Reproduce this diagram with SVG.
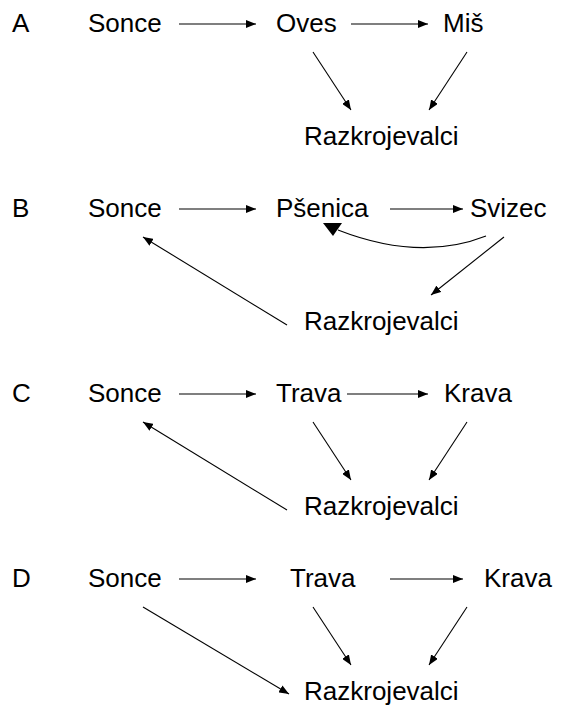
<svg xmlns="http://www.w3.org/2000/svg" width="561" height="706" viewBox="0 0 561 706">
<style>
text{font-family:"Liberation Sans",Arial,sans-serif;font-size:26px;fill:#000}
.c line,.c path{stroke:#000;stroke-width:1.1;fill:none}
.a{marker-end:url(#ah)}
</style>
<defs>
<marker id="ah" markerUnits="userSpaceOnUse" markerWidth="11" markerHeight="8" refX="10" refY="4" orient="auto">
<path d="M0,0 L10,4 L0,8 z" fill="#000"/>
</marker>
</defs>
<rect width="561" height="706" fill="#fff"/>
<g id="labels">
<text x="12" y="32">A</text>
<text x="12" y="217">B</text>
<text x="12" y="402">C</text>
<text x="12" y="587">D</text>
</g>
<g id="A">
<g id="A-sonce"><text x="88" y="32">Sonce</text></g>
<g id="A-oves"><text x="276" y="32">Oves</text></g>
<g id="A-mis"><text x="443" y="32">Miš</text></g>
<g id="A-razk"><text x="304" y="145">Razkrojevalci</text></g>
</g>
<g id="B">
<g id="B-sonce"><text x="88" y="217">Sonce</text></g>
<g id="B-psenica"><text x="276" y="217">Pšenica</text></g>
<g id="B-svizec"><text x="470" y="217">Svizec</text></g>
<g id="B-razk"><text x="304" y="330">Razkrojevalci</text></g>
</g>
<g id="C">
<g id="C-sonce"><text x="88" y="402">Sonce</text></g>
<g id="C-trava"><text x="276" y="402">Trava</text></g>
<g id="C-krava"><text x="444" y="402">Krava</text></g>
<g id="C-razk"><text x="304" y="515">Razkrojevalci</text></g>
</g>
<g id="D">
<g id="D-sonce"><text x="88" y="587">Sonce</text></g>
<g id="D-trava"><text x="290" y="587">Trava</text></g>
<g id="D-krava"><text x="484" y="587">Krava</text></g>
<g id="D-razk"><text x="304" y="700">Razkrojevalci</text></g>
</g>
<g id="connectors" class="c">
<line class="a" x1="179" y1="24" x2="256" y2="24"/>
<line class="a" x1="351" y1="24" x2="428" y2="24"/>
<line class="a" x1="313" y1="52" x2="351" y2="110"/>
<line class="a" x1="467" y1="52" x2="429" y2="110"/>

<line class="a" x1="179" y1="209" x2="256" y2="209"/>
<line class="a" x1="390" y1="209" x2="463" y2="209"/>
<path d="M486,236 Q420,262 338,230"/>
<polygon points="323,223 342,223 333,236" fill="#000" stroke="none"/>
<line class="a" x1="504" y1="237" x2="431" y2="295"/>
<line class="a" x1="287" y1="325" x2="143" y2="237"/>

<line class="a" x1="179" y1="394" x2="256" y2="394"/>
<line class="a" x1="347" y1="394" x2="428" y2="394"/>
<line class="a" x1="313" y1="422" x2="351" y2="480"/>
<line class="a" x1="467" y1="422" x2="429" y2="480"/>
<line class="a" x1="287" y1="510" x2="143" y2="422"/>

<line class="a" x1="179" y1="579" x2="256" y2="579"/>
<line class="a" x1="390" y1="579" x2="463" y2="579"/>
<line class="a" x1="313" y1="607" x2="351" y2="665"/>
<line class="a" x1="467" y1="607" x2="429" y2="665"/>
<line class="a" x1="143" y1="607" x2="289" y2="694"/>
</g>
</svg>
